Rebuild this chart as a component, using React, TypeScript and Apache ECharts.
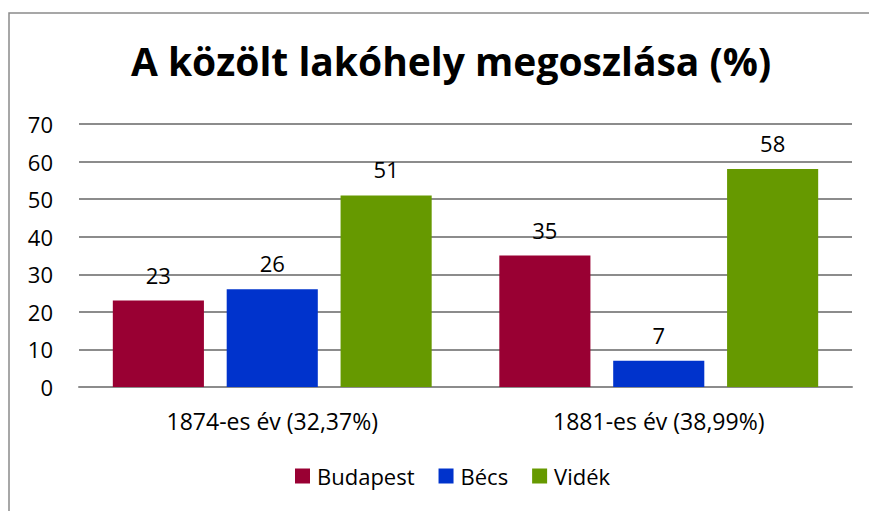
import React, { useEffect, useRef } from "react";
import * as echarts from "echarts";

const categories = ["1874-es év (32,37%)", "1881-es év (38,99%)"];
const budapest = [23, 35];
const becs = [26, 7];
const videk = [51, 58];
const seriesNames = ["Budapest", "Bécs", "Vidék"];
const colors = ["#990033", "#0033CC", "#669900"];
const titleText = "A közölt lakóhely megoszlása (%)";

const FONT = "'Open Sans', sans-serif";

export default function App() {
  const ref = useRef<HTMLDivElement>(null);
  useEffect(() => {
    if (!ref.current) return;
    const chart = echarts.init(ref.current, null, { renderer: "svg" });
    const values = [budapest, becs, videk];
    chart.setOption({
      animation: false,
      backgroundColor: "#ffffff",
      textStyle: { fontFamily: FONT },
      title: {
        text: titleText,
        left: 446,
        textAlign: "center",
        top: 36,
        textStyle: { fontFamily: FONT, fontSize: 39, fontWeight: "bold", color: "#000" },
      },
      graphic: [
        {
          type: "rect",
          shape: { x: 9, y: 13, width: 1000, height: 1000 },
          style: { fill: "none", stroke: "#8a8a8a", lineWidth: 1.5 },
          silent: true,
          z: -1,
        },
      ],
      legend: {
        bottom: 19,
        left: 290,
        itemWidth: 15,
        itemHeight: 15,
        itemGap: 24,
        icon: "rect",
        data: seriesNames,
        textStyle: { fontFamily: FONT, fontSize: 22, color: "#000", padding: [0, 0, 0, 2] },
      },
      grid: { left: 79, right: 17, top: 124, bottom: 124 },
      xAxis: {
        type: "category",
        data: categories,
        axisTick: { show: false },
        axisLine: { lineStyle: { color: "#8c8c8c", width: 2 } },
        axisLabel: { margin: 22, fontSize: 23, color: "#000", fontFamily: FONT },
      },
      yAxis: {
        type: "value",
        min: 0,
        max: 70,
        interval: 10,
        axisLine: { show: false },
        axisTick: { show: false },
        splitLine: { lineStyle: { color: "#8c8c8c", width: 2 } },
        axisLabel: { margin: 26, fontSize: 22, color: "#000", fontFamily: FONT },
      },
      series: seriesNames.map((name, i) => ({
        name,
        type: "bar",
        data: values[i],
        barGap: "25%",
        barCategoryGap: "17.5%",
        itemStyle: { color: colors[i] },
        label: {
          show: true,
          position: "top",
          distance: 15,
          fontSize: 22,
          color: "#000",
          fontFamily: FONT,
        },
      })),
    });
    return () => chart.dispose();
  }, []);
  return (
    <div
      ref={ref}
      style={{ position: "absolute", left: 0, top: 0, width: 869, height: 511 }}
    />
  );
}
